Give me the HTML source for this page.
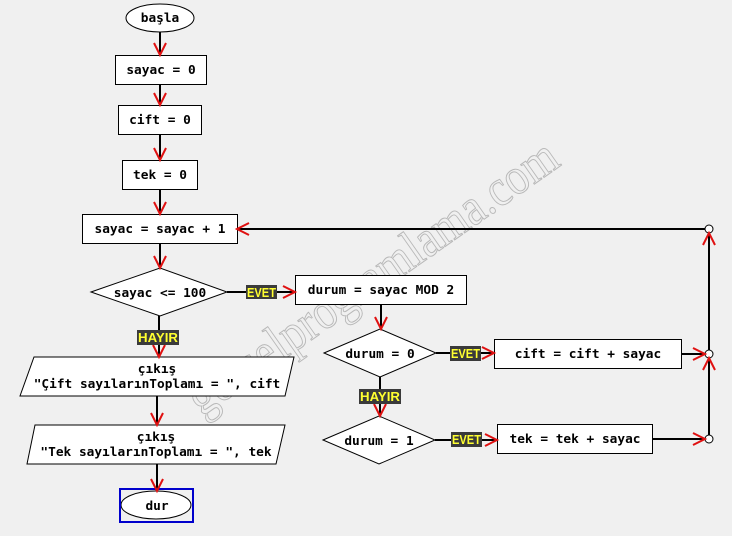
<!DOCTYPE html>
<html><head><meta charset="utf-8"><style>
html,body{margin:0;padding:0;background:#f0f0f0;}
svg{display:block;}
text{font-family:"DejaVu Sans Mono","Liberation Mono",monospace;font-weight:bold;font-size:12.8px;fill:#000;}
.lb{font-family:"Liberation Sans",sans-serif;font-weight:bold;font-size:12.5px;fill:#ffff30;}
</style></head><body>
<svg width="732" height="536" viewBox="0 0 732 536" xmlns="http://www.w3.org/2000/svg">
<rect width="732" height="536" fill="#f0f0f0"/>
<!-- watermark -->
<text x="378" y="292" transform="rotate(-35 378 285)" text-anchor="middle" textLength="440" lengthAdjust="spacingAndGlyphs" style="font-family:'Liberation Serif',serif;font-weight:normal;font-size:52px;fill:none;stroke:#b8b8b8;stroke-width:1">gorselprogramlama.com</text>

<g stroke="#000" stroke-width="2" fill="none">
<line x1="160" y1="32" x2="160" y2="55"/>
<line x1="160" y1="84" x2="160" y2="105"/>
<line x1="160" y1="134" x2="160" y2="160"/>
<line x1="160" y1="189" x2="160" y2="214"/>
<line x1="160" y1="243" x2="160" y2="268"/>
<line x1="159" y1="316" x2="159" y2="357"/>
<line x1="157" y1="396" x2="157" y2="425"/>
<line x1="157" y1="464" x2="157" y2="491"/>
<line x1="227" y1="292" x2="295" y2="292"/>
<line x1="381" y1="304" x2="381" y2="329"/>
<line x1="380" y1="377" x2="380" y2="416"/>
<line x1="436" y1="353" x2="494" y2="353"/>
<line x1="435" y1="440" x2="497" y2="440"/>
<line x1="681" y1="354" x2="705" y2="354"/>
<line x1="652" y1="439" x2="705" y2="439"/>
<line x1="709" y1="233" x2="709" y2="435"/>
<line x1="705" y1="229" x2="237" y2="229"/>
</g>

<g stroke="#000" stroke-width="1" fill="#fff">
<ellipse cx="160" cy="18" rx="34" ry="14"/>
<rect x="115.5" y="55.5" width="91" height="29"/>
<rect x="118.5" y="105.5" width="83" height="29"/>
<rect x="122.5" y="160.5" width="75" height="29"/>
<rect x="82.5" y="214.5" width="155" height="29"/>
<polygon points="91,292 160,268 227,292 160,316"/>
<rect x="295.5" y="275.5" width="171" height="29"/>
<polygon points="324,353 380,329 436,353 380,377"/>
<polygon points="323,440 379,416 435,440 379,464"/>
<rect x="494.5" y="339.5" width="187" height="29"/>
<rect x="497.5" y="424.5" width="155" height="29"/>
<polygon points="34,357 294,357 285,396 20,396"/>
<polygon points="35,425 285,425 276,464 27,464"/>
<ellipse cx="156" cy="505" rx="35" ry="14"/>
<circle cx="709" cy="229" r="4"/>
<circle cx="709" cy="354" r="4"/>
<circle cx="709" cy="439" r="4"/>
</g>
<rect x="120" y="489" width="73" height="33" fill="none" stroke="#0000cc" stroke-width="2"/>

<g stroke="#e01010" stroke-width="2" fill="none">
<path d="M154 43 L160 55 L166 43"/>
<path d="M154 93 L160 105 L166 93"/>
<path d="M154 148 L160 160 L166 148"/>
<path d="M154 202 L160 214 L166 202"/>
<path d="M154 256 L160 268 L166 256"/>
<path d="M153 345 L159 357 L165 345"/>
<path d="M151 413 L157 425 L163 413"/>
<path d="M151 479 L157 491 L163 479"/>
<path d="M375 317 L381 329 L387 317"/>
<path d="M374 404 L380 416 L386 404"/>
<path d="M283 286 L295 292 L283 298"/>
<path d="M482 347 L494 353 L482 359"/>
<path d="M485 434 L497 440 L485 446"/>
<path d="M693 348 L705 354 L693 360"/>
<path d="M693 433 L705 439 L693 445"/>
<path d="M249 223 L237 229 L249 235"/>
<path d="M703 245 L709 233 L715 245"/>
<path d="M703 370 L709 358 L715 370"/>
</g>

<g>
<rect x="246" y="285" width="31" height="14" fill="#3a3a3a"/><text class="lb" x="261.5" y="297" text-anchor="middle" textLength="29" lengthAdjust="spacingAndGlyphs">EVET</text>
<rect x="450" y="346" width="31" height="15" fill="#3a3a3a"/><text class="lb" x="465.5" y="358" text-anchor="middle" textLength="29" lengthAdjust="spacingAndGlyphs">EVET</text>
<rect x="451" y="432" width="31" height="15" fill="#3a3a3a"/><text class="lb" x="466.5" y="444" text-anchor="middle" textLength="29" lengthAdjust="spacingAndGlyphs">EVET</text>
<rect x="137" y="330" width="42" height="15" fill="#3a3a3a"/><text class="lb" x="158" y="342" text-anchor="middle" textLength="40" lengthAdjust="spacingAndGlyphs">HAYIR</text>
<rect x="359" y="389" width="42" height="15" fill="#3a3a3a"/><text class="lb" x="380" y="401" text-anchor="middle" textLength="40" lengthAdjust="spacingAndGlyphs">HAYIR</text>
</g>

<g text-anchor="middle">
<text x="160" y="22">başla</text>
<text x="161" y="74">sayac = 0</text>
<text x="160" y="124">cift = 0</text>
<text x="160" y="179">tek = 0</text>
<text x="160" y="233">sayac = sayac + 1</text>
<text x="160" y="297">sayac &lt;= 100</text>
<text x="381" y="294">durum = sayac MOD 2</text>
<text x="380" y="358">durum = 0</text>
<text x="379" y="445">durum = 1</text>
<text x="588" y="358">cift = cift + sayac</text>
<text x="575" y="443">tek = tek + sayac</text>
<text x="157" y="373">çıkış</text>
<text x="157" y="388">"Çift sayılarınToplamı = ", cift</text>
<text x="156" y="441">çıkış</text>
<text x="156" y="456">"Tek sayılarınToplamı = ", tek</text>
<text x="157" y="510">dur</text>
</g>
</svg>
</body></html>
